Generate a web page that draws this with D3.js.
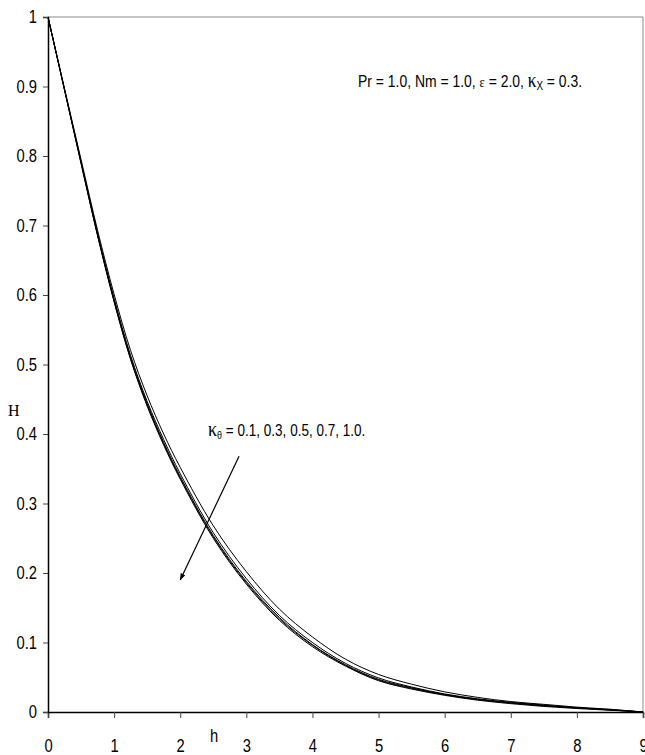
<!DOCTYPE html>
<html>
<head>
<meta charset="utf-8">
<script src="https://cdn.jsdelivr.net/npm/d3@7"></script>
<style>
  html, body { margin: 0; padding: 0; background: #fff; }
  svg { display: block; }
</style>
</head>
<body>
<svg id="chart" width="645" height="755"></svg>
<script>
// Dimensionless coordinate h and the profiles H(h) for five values of kappa_theta
const hValues = [0, 0.25, 0.5, 0.75, 1, 1.25, 1.5, 1.75, 2, 2.5, 3, 3.5, 4, 4.5, 5, 5.5, 6, 6.5, 7, 7.5, 8, 8.5, 9];

const kappaTheta = [0.1, 0.3, 0.5, 0.7, 1.0];

const H_k01 = [1, 0.897, 0.795, 0.693, 0.601, 0.520, 0.455, 0.400, 0.352, 0.268, 0.202, 0.148, 0.108, 0.076, 0.054, 0.040, 0.029, 0.021, 0.015, 0.011, 0.007, 0.004, 0];
const H_k03 = [1, 0.896, 0.792, 0.689, 0.595, 0.513, 0.447, 0.392, 0.343, 0.258, 0.192, 0.139, 0.100, 0.070, 0.049, 0.036, 0.026, 0.019, 0.014, 0.010, 0.006, 0.0035, 0];
const H_k05 = [1, 0.895, 0.791, 0.687, 0.593, 0.510, 0.444, 0.388, 0.339, 0.254, 0.188, 0.136, 0.097, 0.068, 0.047, 0.035, 0.025, 0.018, 0.013, 0.009, 0.006, 0.003, 0];
const H_k07 = [1, 0.895, 0.790, 0.686, 0.591, 0.508, 0.442, 0.386, 0.337, 0.252, 0.186, 0.134, 0.096, 0.067, 0.046, 0.034, 0.025, 0.018, 0.013, 0.009, 0.006, 0.003, 0];
const H_k10 = [1, 0.895, 0.789, 0.685, 0.590, 0.507, 0.440, 0.384, 0.335, 0.250, 0.184, 0.132, 0.094, 0.066, 0.045, 0.033, 0.024, 0.017, 0.012, 0.008, 0.005, 0.0025, 0];

const seriesList = [H_k01, H_k03, H_k05, H_k07, H_k10];

const xTicks = [0, 1, 2, 3, 4, 5, 6, 7, 8, 9];
const xTickLabels = ["0", "1", "2", "3", "4", "5", "6", "7", "8", "9"];
const yTicks = [0, 0.1, 0.2, 0.3, 0.4, 0.5, 0.6, 0.7, 0.8, 0.9, 1];
const yTickLabels = ["0", "0.1", "0.2", "0.3", "0.4", "0.5", "0.6", "0.7", "0.8", "0.9", "1"];

const svg = d3.select("#chart");
const plotLeft = 48, plotRight = 643, plotTop = 17, plotBottom = 712;

const x = d3.scaleLinear().domain([0, 9]).range([plotLeft, plotRight]);
const y = d3.scaleLinear().domain([0, 1]).range([plotBottom, plotTop]);

const sans = '"Liberation Sans", Arial, sans-serif';
const serif = '"Liberation Serif", "Times New Roman", serif';
const squeeze = 0.82;   // horizontal compression giving a narrow face

// frame: top and right edges in grey
svg.append("line").attr("x1", plotLeft).attr("x2", plotRight).attr("y1", plotTop).attr("y2", plotTop)
  .attr("stroke", "#8c8c8c").attr("stroke-width", 1);
svg.append("line").attr("x1", plotRight).attr("x2", plotRight).attr("y1", plotTop).attr("y2", plotBottom)
  .attr("stroke", "#8c8c8c").attr("stroke-width", 1);

// curves
const line = d3.line()
  .x((d, i) => x(hValues[i]))
  .y(d => y(d))
  .curve(d3.curveCatmullRom.alpha(0.5));

svg.append("g").selectAll("path")
  .data(seriesList)
  .join("path")
  .attr("d", d => line(d))
  .attr("fill", "none")
  .attr("stroke", "#000")
  .attr("stroke-width", 1);

// axes
const xAxis = d3.axisBottom(x)
  .tickValues(xTicks)
  .tickFormat((d, i) => xTickLabels[i])
  .tickSize(6)
  .tickPadding(21);
const gx = svg.append("g").attr("transform", `translate(0,${plotBottom})`).call(xAxis);
gx.select(".domain").attr("stroke", "#000").attr("stroke-width", 1.5);
gx.selectAll(".tick line").attr("stroke", "#444");
gx.selectAll(".tick text")
  .attr("font-family", sans).attr("font-size", 18).attr("fill", "#000")
  .attr("transform", `scale(${squeeze},1)`);

const yAxis = d3.axisLeft(y)
  .tickValues(yTicks)
  .tickFormat((d, i) => yTickLabels[i])
  .tickSize(5)
  .tickPadding(6);
const gy = svg.append("g").attr("transform", `translate(${plotLeft},0)`).call(yAxis);
gy.select(".domain").attr("stroke", "#000").attr("stroke-width", 1.5);
gy.selectAll(".tick line").attr("stroke", "#444");
gy.selectAll(".tick text")
  .attr("font-family", sans).attr("font-size", 18).attr("fill", "#000")
  .attr("x", -11 / squeeze)
  .attr("transform", `scale(${squeeze},1)`);

// narrow text placed at (px, py)
function narrowText(px, py, size) {
  return svg.append("text")
    .attr("transform", `translate(${px},${py}) scale(${squeeze},1)`)
    .attr("font-family", sans).attr("font-size", size).attr("fill", "#000");
}

// axis titles
narrowText(210, 742, 18).text("h");
svg.append("text")
  .attr("x", 8).attr("y", 416)
  .attr("font-family", serif).attr("font-size", 16)
  .text("H");

// parameter note
const note = narrowText(x(4.69), y(0.9), 17);
note.append("tspan").text("Pr = 1.0,  Nm = 1.0, ");
note.append("tspan").attr("font-family", serif).attr("font-size", 15).text("ε");
note.append("tspan").text(" = 2.0, ");
note.append("tspan").attr("font-family", serif).attr("font-size", 21).text("κ");
note.append("tspan").attr("font-size", 12).attr("dy", 3).text("X");
note.append("tspan").attr("dy", -3).text(" = 0.3.");

// kappa_theta label and arrow
const klab = narrowText(x(2.42), y(0.397), 16.5);
klab.append("tspan").attr("font-family", serif).attr("font-size", 22).text("κ");
klab.append("tspan").attr("font-size", 11).attr("dy", 3).text("θ");
klab.append("tspan").attr("dy", -3).text(" = " + kappaTheta.map(k => k.toFixed(1)).join(", ") + ".");

svg.append("defs").append("marker")
  .attr("id", "arrowhead")
  .attr("viewBox", "0 0 10 10")
  .attr("refX", 9).attr("refY", 5)
  .attr("markerWidth", 6).attr("markerHeight", 6)
  .attr("orient", "auto")
  .append("path").attr("d", "M0,1.5 L10,5 L0,8.5 Z").attr("fill", "#000");

svg.append("line")
  .attr("x1", x(2.89)).attr("y1", y(0.368))
  .attr("x2", x(2.0)).attr("y2", y(0.19))
  .attr("stroke", "#000").attr("stroke-width", 1.2)
  .attr("marker-end", "url(#arrowhead)");
</script>
</body>
</html>
